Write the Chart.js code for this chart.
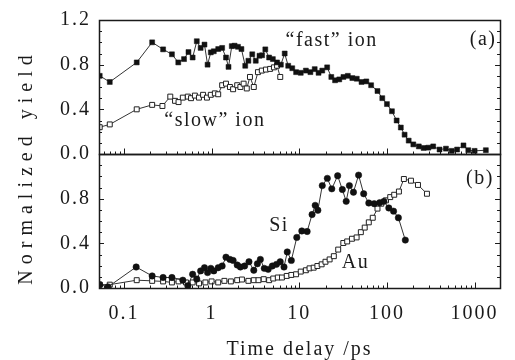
<!DOCTYPE html>
<html>
<head>
<meta charset="utf-8">
<script src="https://cdn.jsdelivr.net/npm/chart.js@4.4.1/dist/chart.umd.min.js"></script>
<style>
  html, body { margin: 0; padding: 0; background: #fff; }
</style>
</head>
<body>
<canvas id="yieldChart" width="515" height="360"></canvas>
<script>
// (a) "fast" ion — delay in ps, normalized yield
const fastTime = [0.053, 0.069, 0.14, 0.21, 0.28, 0.353, 0.417, 0.485, 0.545, 0.608, 0.678, 0.75, 0.83, 0.90,
  0.98, 1.06, 1.19, 1.32, 1.46, 1.56, 1.70, 1.83, 2.0, 2.19, 2.42, 2.63, 2.91, 3.19, 3.52, 3.77, 4.1, 4.53,
  5.0, 5.58, 6.17, 6.82, 7.48, 8.32, 9.2, 10.4, 11.9, 13.4, 15.0, 16.6, 18.3, 20.8, 23.2, 25.6, 28.6, 31.9,
  35.8, 40.3, 45.3, 51.3, 58.2, 66, 78, 88.5, 100, 114, 129, 144, 159, 177, 200, 231, 262, 297, 337, 398,
  471, 548, 631, 746, 847, 1000, 1343];
const fastYield = [0.70, 0.645, 0.82, 1.0, 0.937, 0.893, 0.82, 0.85, 0.913, 0.864, 1.01, 0.95, 0.98, 0.80,
  0.91, 0.92, 0.94, 0.95, 0.864, 0.78, 0.966, 0.97, 0.96, 0.94, 0.79, 0.835, 0.893, 0.835, 0.88, 0.884, 0.937, 0.864,
  0.85, 0.82, 0.80, 0.90, 0.79, 0.768, 0.733, 0.727, 0.747, 0.733, 0.76, 0.727, 0.747, 0.776, 0.69, 0.66, 0.668, 0.69,
  0.70, 0.68, 0.674, 0.645, 0.65, 0.616, 0.564, 0.50, 0.447, 0.383, 0.30, 0.237, 0.173, 0.12, 0.086, 0.068, 0.054, 0.057, 0.068, 0.04,
  0.048, 0.028, 0.04, 0.077, 0.034, 0.028, 0.034];

// (a) "slow" ion
const slowTime = [0.053, 0.069, 0.14, 0.21, 0.275, 0.338, 0.383, 0.42, 0.47, 0.536, 0.583, 0.645, 0.718, 0.80,
  0.886, 0.98, 1.09, 1.19, 1.32, 1.46, 1.62, 1.76, 1.96, 2.13, 2.32, 2.52, 2.74, 3.03, 3.38, 3.74, 4.17, 4.65,
  5.14, 5.58, 6.07];
const slowYield = [0.24, 0.265, 0.40, 0.44, 0.43, 0.514, 0.476, 0.465, 0.505, 0.514, 0.50, 0.523, 0.505, 0.53,
  0.505, 0.53, 0.543, 0.535, 0.616, 0.63, 0.60, 0.58, 0.616, 0.60, 0.63, 0.587, 0.69, 0.60, 0.733, 0.747, 0.756, 0.762,
  0.776, 0.79, 0.69];

// (b) Si
const siTime = [0.053, 0.066, 0.138, 0.21, 0.28, 0.353, 0.47, 0.536, 0.608, 0.678, 0.75, 0.83, 0.90, 0.98, 1.06,
  1.19, 1.32, 1.46, 1.62, 1.76, 1.96, 2.13, 2.38, 2.67, 3.03, 3.33, 3.6, 3.99, 4.42, 4.93, 5.5, 6.07, 6.7, 7.3,
  8.12, 9.37, 10.7, 12.3, 14.0, 15.2, 16.3, 18.3, 20.9, 23.5, 27.4, 31.0, 34.3, 37.3, 41.5, 47.5, 54.3, 62.1,
  71.6, 82.6, 92.3, 105, 119, 135, 162];
const siYield = [0.03, 0.01, 0.188, 0.108, 0.094, 0.094, 0.07, 0.02, 0.123, 0.08, 0.153, 0.182, 0.138, 0.176, 0.153,
  0.182, 0.197, 0.276, 0.256, 0.247, 0.206, 0.188, 0.197, 0.235, 0.159, 0.217, 0.256, 0.176, 0.167, 0.197, 0.212, 0.235, 0.188, 0.323,
  0.247, 0.453, 0.511, 0.506, 0.658, 0.74, 0.696, 0.917, 0.982, 0.888, 1.005, 0.882, 0.776, 0.917, 0.858, 1.011, 0.844, 0.761,
  0.755, 0.764, 0.776, 0.717, 0.688, 0.629, 0.429];

// (b) Au
const auTime = [0.053, 0.069, 0.14, 0.21, 0.28, 0.353, 0.42, 0.51, 0.608, 0.72, 0.85, 1.0, 1.19, 1.4, 1.66,
  1.96, 2.22, 2.63, 3.03, 3.43, 3.93, 4.53, 5.05, 5.69, 6.35, 7.2, 8.12, 9.2, 10.4, 11.9, 13.1, 14.6, 16.1,
  18.0, 19.9, 22.2, 24.8, 27.8, 31.8, 35.2, 39.9, 45.1, 50.4, 55.8, 62.1, 68.9, 78, 86.2, 97.6, 109, 121,
  137, 156, 188, 226, 286];
const auYield = [0.03, 0.03, 0.07, 0.064, 0.059, 0.05, 0.059, 0.05, 0.05, 0.041, 0.05, 0.059, 0.05, 0.064, 0.059,
  0.07, 0.076, 0.064, 0.07, 0.07, 0.079, 0.07, 0.085, 0.094, 0.094, 0.108, 0.117, 0.123, 0.147, 0.159, 0.176, 0.182, 0.197,
  0.212, 0.235, 0.256, 0.285, 0.344, 0.403, 0.417, 0.441, 0.453, 0.50, 0.541, 0.588, 0.629, 0.711, 0.755, 0.785, 0.814, 0.835,
  0.864, 0.976, 0.961, 0.923, 0.844];

const xTicks = [0.1, 1, 10, 100, 1000];
const yTicksTop = [0, 0.4, 0.8, 1.2];
const yTicksBottom = [0, 0.4, 0.8];

const pts = (xs, ys) => xs.map((x, i) => ({ x: x, y: ys[i] }));
const ink = '#1a1a1a';
const serif = '"Liberation Serif", "DejaVu Serif", serif';

// panel frames, log minor ticks, in-plot labels and the shared y title
const panelDecor = {
  id: 'panelDecor',
  beforeUpdate(chart) { chart.ctx.letterSpacing = '2px'; },
  beforeDraw(chart) { chart.ctx.letterSpacing = '2px'; },
  afterDraw(chart) {
    const ctx = chart.ctx;
    const xs = chart.scales.x;
    const area = chart.chartArea;
    ctx.save();
    ctx.strokeStyle = ink;
    ctx.lineWidth = 1;
    ['yA', 'yB'].forEach(id => {
      const ys = chart.scales[id];
      const bottom = Math.round(ys.bottom) + 0.5;
      ctx.beginPath();
      for (let k = -2; k <= 4; k++) {
        for (let m = 1; m <= 9; m++) {
          const v = m * Math.pow(10, k);
          if (v < xs.min || v > xs.max) continue;
          const px = Math.round(xs.getPixelForValue(v)) + 0.5;
          const len = m === 1 ? 6 : 3;
          ctx.moveTo(px, bottom);
          ctx.lineTo(px, bottom - len);
        }
      }
      for (let v = 0.1; v < 1.2; v += 0.1) {
        const py = Math.round(ys.getPixelForValue(v)) + 0.5;
        const major = Math.abs(v / 0.4 - Math.round(v / 0.4)) < 1e-6;
        const len = major ? 5 : 3;
        ctx.moveTo(area.left, py);
        ctx.lineTo(area.left + len, py);
        ctx.moveTo(area.right, py);
        ctx.lineTo(area.right - len, py);
      }
      ctx.stroke();
      ctx.lineWidth = 1.5;
      ctx.strokeRect(Math.round(area.left) + 0.5, Math.round(ys.top) + 0.5,
        Math.round(area.right - area.left), Math.round(ys.bottom - ys.top));
      ctx.lineWidth = 1;
    });

    ctx.fillStyle = ink;
    ctx.textAlign = 'center';
    ctx.textBaseline = 'middle';
    ctx.font = '20px ' + serif;
    ctx.letterSpacing = '1.5px';
    const notes = [
      ['\u201cfast\u201d ion', 23.4, 1.01, 'yA'],
      ['\u201cslow\u201d ion', 1.09, 0.30, 'yA'],
      ['(a)', 1250, 1.02, 'yA'],
      ['(b)', 1150, 0.98, 'yB'],
      ['Si', 5.87, 0.56, 'yB'],
      ['Au', 43.8, 0.23, 'yB']
    ];
    notes.forEach(([text, t, v, id]) => {
      ctx.fillText(text, xs.getPixelForValue(t), chart.scales[id].getPixelForValue(v));
    });

    ctx.translate(27, 167);
    ctx.rotate(-Math.PI / 2);
    ctx.letterSpacing = '6px';
    ctx.fillText('Normalized yield', 0, 0);
    ctx.restore();
  }
};

const yAxis = (ticks, extra) => Object.assign({
  type: 'linear',
  position: 'left',
  stack: 'panels',
  stackWeight: 1,
  min: 0,
  max: 1.2,
  grid: { display: false, drawTicks: false },
  border: { display: false },
  afterBuildTicks: s => { s.ticks = ticks.map(v => ({ value: v })); },
  ticks: {
    padding: 8,
    color: ink,
    font: { family: serif, size: 20 },
    callback: v => v.toFixed(1)
  }
}, extra);

new Chart(document.getElementById('yieldChart'), {
  type: 'line',
  data: {
    datasets: [
      {
        label: 'fast', data: pts(fastTime, fastYield), yAxisID: 'yA',
        borderColor: '#333', borderWidth: 1, pointStyle: 'rect', pointRadius: 3.5,
        pointBackgroundColor: '#111', pointBorderColor: '#111', pointBorderWidth: 0.5
      },
      {
        label: 'slow', data: pts(slowTime, slowYield), yAxisID: 'yA',
        borderColor: '#333', borderWidth: 1, pointStyle: 'rect', pointRadius: 3.5,
        pointBackgroundColor: '#fff', pointBorderColor: '#222', pointBorderWidth: 1
      },
      {
        label: 'Si', data: pts(siTime, siYield), yAxisID: 'yB',
        borderColor: '#333', borderWidth: 1, pointStyle: 'circle', pointRadius: 3.2,
        pointBackgroundColor: '#111', pointBorderColor: '#111', pointBorderWidth: 0.5
      },
      {
        label: 'Au', data: pts(auTime, auYield), yAxisID: 'yB',
        borderColor: '#333', borderWidth: 1, pointStyle: 'rect', pointRadius: 3.5,
        pointBackgroundColor: '#fff', pointBorderColor: '#222', pointBorderWidth: 1
      }
    ]
  },
  options: {
    responsive: false,
    animation: false,
    layout: { padding: { left: 52, right: 6, top: 13, bottom: 0 } },
    plugins: { legend: { display: false }, tooltip: { enabled: false } },
    scales: {
      x: {
        type: 'logarithmic',
        position: 'bottom',
        min: 0.052,
        max: 1950,
        grid: { display: false, drawTicks: false },
        border: { display: false },
        afterBuildTicks: s => { s.ticks = xTicks.map(v => ({ value: v })); },
        ticks: {
          padding: 16,
          color: ink,
          autoSkip: false,
          maxRotation: 0,
          font: { family: serif, size: 20, lineHeight: 1 },
          callback: v => String(v)
        },
        title: {
          display: true,
          text: 'Time delay /ps',
          color: ink,
          font: { family: serif, size: 20, lineHeight: 1 },
          padding: { top: 0, bottom: 0 }
        }
      },
      yB: yAxis(yTicksBottom),
      yA: yAxis(yTicksTop)
    }
  },
  plugins: [panelDecor]
});
</script>
</body>
</html>
